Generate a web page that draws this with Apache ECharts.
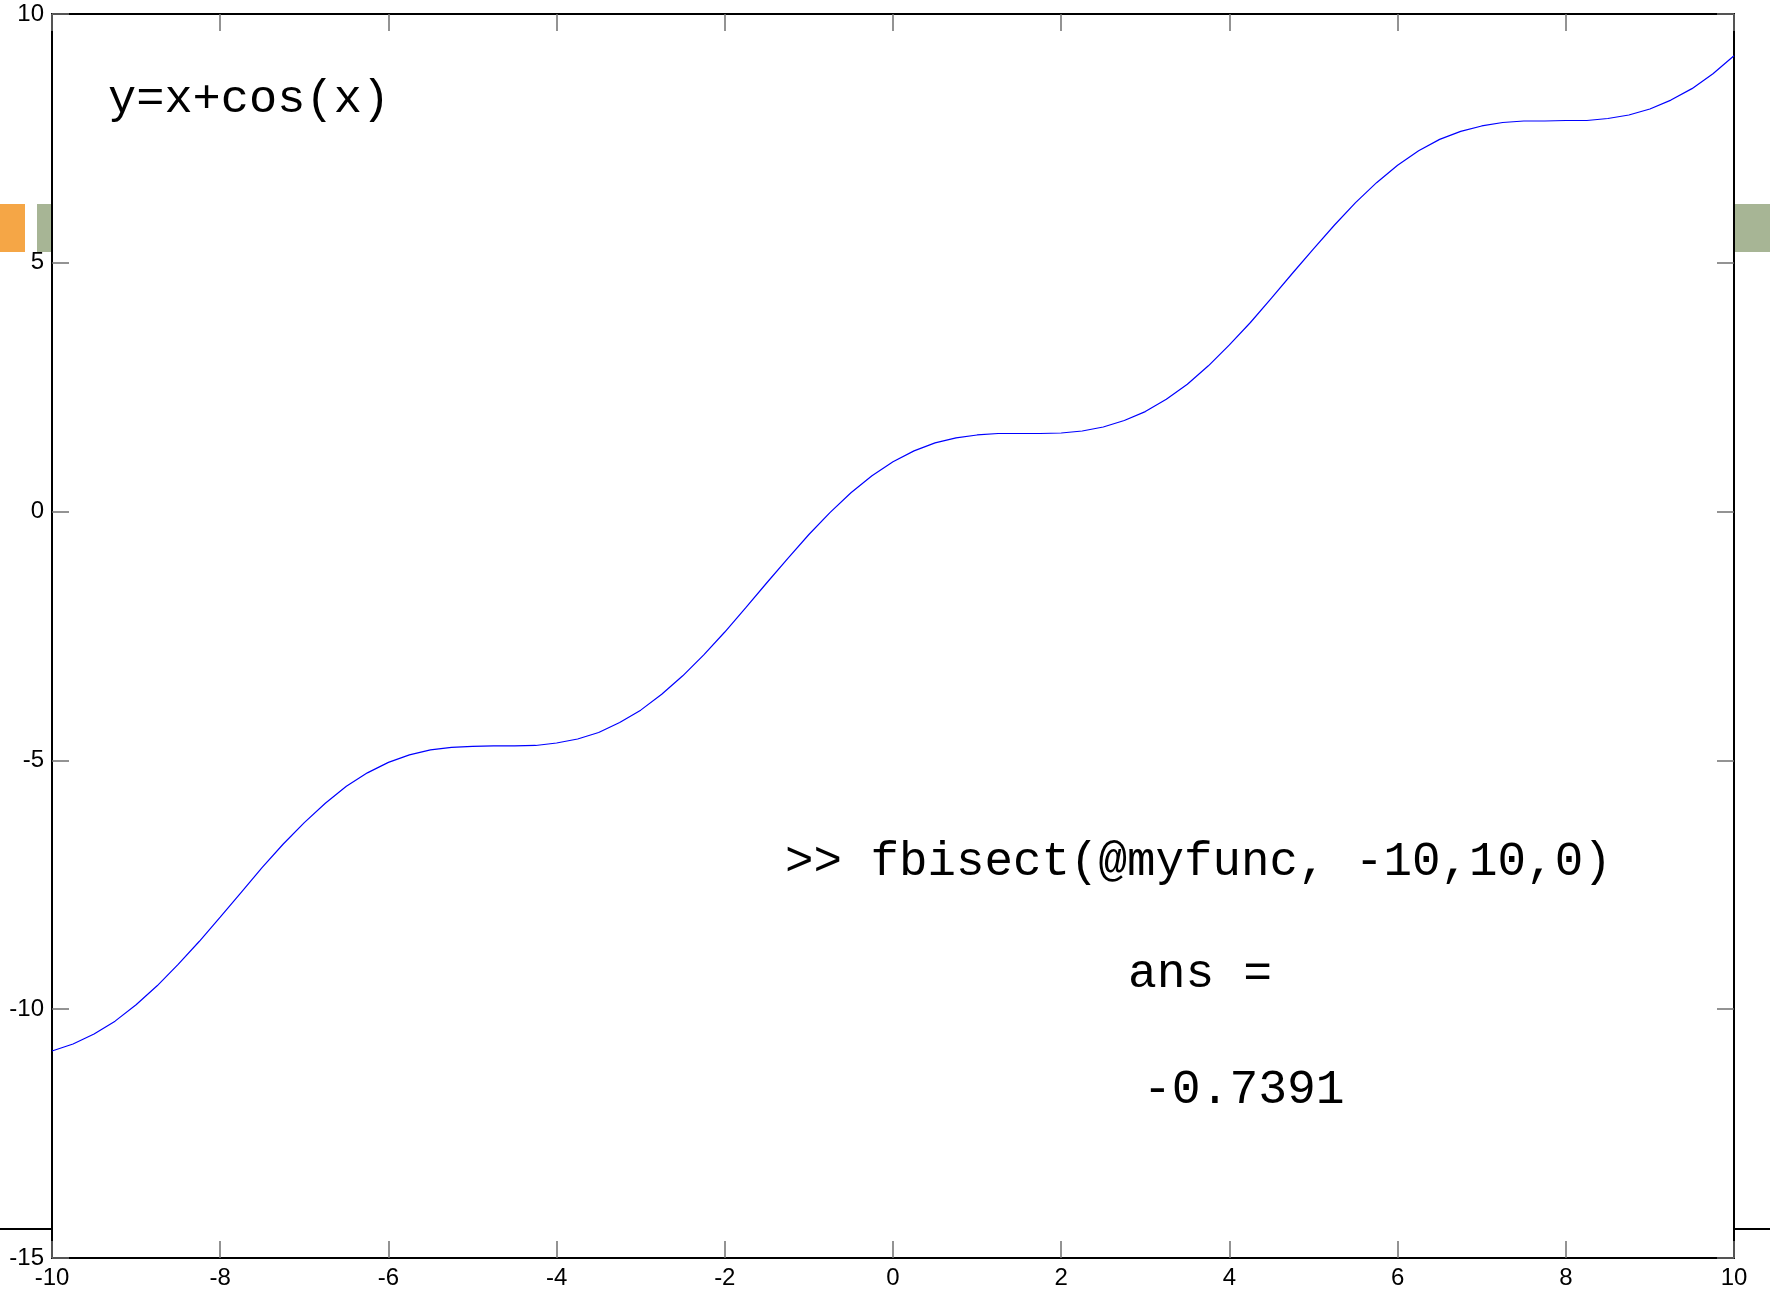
<!DOCTYPE html>
<html>
<head>
<meta charset="utf-8">
<script src="https://cdn.jsdelivr.net/npm/echarts@6/dist/echarts.min.js"></script>
<style>
html,body{margin:0;padding:0;background:#fff;}
#chart{width:1770px;height:1295px;}
</style>
</head>
<body>
<div id="chart"></div>
<script>
// Data
var xValues = [-10,-9.75,-9.5,-9.25,-9,-8.75,-8.5,-8.25,-8,-7.75,-7.5,-7.25,-7,-6.75,-6.5,-6.25,-6,-5.75,-5.5,-5.25,-5,-4.75,-4.5,-4.25,-4,-3.75,-3.5,-3.25,-3,-2.75,-2.5,-2.25,-2,-1.75,-1.5,-1.25,-1,-0.75,-0.5,-0.25,0,0.25,0.5,0.75,1,1.25,1.5,1.75,2,2.25,2.5,2.75,3,3.25,3.5,3.75,4,4.25,4.5,4.75,5,5.25,5.5,5.75,6,6.25,6.5,6.75,7,7.25,7.5,7.75,8,8.25,8.5,8.75,9,9.25,9.5,9.75,10];
var yValues = [-10.84,-10.70,-10.50,-10.24,-9.91,-9.53,-9.10,-8.64,-8.15,-7.65,-7.15,-6.68,-6.25,-5.86,-5.52,-5.25,-5.04,-4.89,-4.79,-4.74,-4.72,-4.71,-4.71,-4.70,-4.65,-4.57,-4.44,-4.24,-3.99,-3.67,-3.30,-2.88,-2.42,-1.93,-1.43,-0.94,-0.46,-0.02,0.38,0.72,1.00,1.22,1.38,1.48,1.54,1.57,1.57,1.57,1.58,1.62,1.70,1.83,2.01,2.26,2.56,2.93,3.35,3.80,4.29,4.79,5.28,5.76,6.21,6.61,6.96,7.25,7.48,7.64,7.75,7.82,7.85,7.85,7.86,7.86,7.90,7.97,8.09,8.27,8.50,8.80,9.16];
var xTicks = [-10,-8,-6,-4,-2,0,2,4,6,8,10];
var yTicks = [-15,-10,-5,0,5,10];
var titleText = 'y=x+cos(x)';
var cmdLine = '>> fbisect(@myfunc, -10,10,0)';
var ansLine = 'ans =';
var ansValue = '-0.7391';

var lineData = xValues.map(function (x, i) { return [x, yValues[i]]; });

var chart = echarts.init(document.getElementById('chart'), null, {renderer: 'canvas'});
var tickStyle = {show: true, inside: true, length: 17, lineStyle: {color: '#707070', width: 1.5}};
var axLine = {show: true, onZero: false, lineStyle: {color: '#000', width: 2}};
function labelCfg(show) {
  return {show: show, margin: 8, color: '#000', fontFamily: 'Liberation Sans', fontSize: 24};
}
function xAx(pos, showLabel) {
  return {
    type: 'value', position: pos, min: xTicks[0], max: xTicks[xTicks.length - 1], interval: 2,
    axisLine: axLine, axisTick: tickStyle, splitLine: {show: false},
    axisLabel: labelCfg(showLabel)
  };
}
function yAx(pos, showLabel) {
  return {
    type: 'value', position: pos, min: yTicks[0], max: yTicks[yTicks.length - 1], interval: 5,
    axisLine: axLine, axisTick: tickStyle, splitLine: {show: false},
    axisLabel: labelCfg(showLabel)
  };
}
var monoFont = 'Liberation Mono, Courier New, monospace';
chart.setOption({
  animation: false,
  backgroundColor: '#ffffff',
  grid: {left: 52, right: 36, top: 14, bottom: 37, containLabel: false},
  xAxis: [xAx('bottom', true), xAx('top', false)],
  yAxis: [yAx('left', true), yAx('right', false)],
  series: [{
    type: 'line', xAxisIndex: 0, yAxisIndex: 0, data: lineData,
    showSymbol: false, smooth: false,
    lineStyle: {color: '#0000ff', width: 1.2}
  }],
  graphic: [
    {type: 'rect', shape: {x: 0, y: 204, width: 25, height: 48}, style: {fill: '#f5a646'}, z: 10},
    {type: 'rect', shape: {x: 37, y: 204, width: 14, height: 48}, style: {fill: '#a7b595'}, z: 10},
    {type: 'rect', shape: {x: 1735, y: 204, width: 35, height: 48}, style: {fill: '#a7b595'}, z: 10},
    {type: 'line', shape: {x1: 0, y1: 1229, x2: 52, y2: 1229}, style: {stroke: '#000', lineWidth: 2}, z: 10},
    {type: 'line', shape: {x1: 1734, y1: 1229, x2: 1770, y2: 1229}, style: {stroke: '#000', lineWidth: 2}, z: 10},
    {type: 'text', x: 108, y: 100, style: {text: titleText, font: '47px ' + monoFont, fill: '#000', verticalAlign: 'middle'}, z: 10},
    {type: 'text', x: 785, y: 862, style: {text: cmdLine, font: '47.5px ' + monoFont, fill: '#000', verticalAlign: 'middle'}, z: 10},
    {type: 'text', x: 1128, y: 974, style: {text: ansLine, font: '48px ' + monoFont, fill: '#000', verticalAlign: 'middle'}, z: 10},
    {type: 'text', x: 1143, y: 1090, style: {text: ansValue, font: '48px ' + monoFont, fill: '#000', verticalAlign: 'middle'}, z: 10}
  ]
});
</script>
</body>
</html>
